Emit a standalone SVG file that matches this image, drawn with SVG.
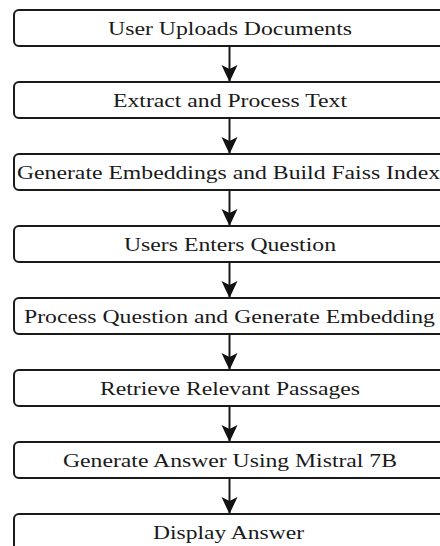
<svg xmlns="http://www.w3.org/2000/svg" width="440" height="546" viewBox="0 0 440 546">
<style>
.box{fill:#ffffff;stroke:#1a1a1a;stroke-width:2}
.lbl{font-family:"Liberation Serif","Times New Roman",serif;font-size:19.5px;fill:#1a1a1a;text-anchor:middle}
.edge{stroke:#1a1a1a;stroke-width:2;fill:none}
</style>
<defs>
<marker id="ah" markerUnits="userSpaceOnUse" markerWidth="20" markerHeight="20" refX="17" refY="8" orient="auto">
<path d="M0,0 L17,8 L0,16 L4,8 Z" fill="#111"/>
</marker>
</defs>
<rect width="440" height="546" fill="#ffffff"/>
<g id="connectors">
<line class="edge" x1="229.5" y1="46" x2="229.5" y2="82" marker-end="url(#ah)"/>
<line class="edge" x1="229.5" y1="118" x2="229.5" y2="154" marker-end="url(#ah)"/>
<line class="edge" x1="229.5" y1="190" x2="229.5" y2="226" marker-end="url(#ah)"/>
<line class="edge" x1="229.5" y1="262" x2="229.5" y2="298" marker-end="url(#ah)"/>
<line class="edge" x1="229.5" y1="334" x2="229.5" y2="370" marker-end="url(#ah)"/>
<line class="edge" x1="229.5" y1="406" x2="229.5" y2="442" marker-end="url(#ah)"/>
<line class="edge" x1="229.5" y1="478" x2="229.5" y2="514" marker-end="url(#ah)"/>
</g>
<g id="n1"><rect class="box" x="14" y="10" width="432" height="36" rx="5"/><text class="lbl" x="230" y="35" textLength="244" lengthAdjust="spacingAndGlyphs">User Uploads Documents</text></g>
<g id="n2"><rect class="box" x="14" y="82" width="432" height="36" rx="5"/><text class="lbl" x="230" y="107" textLength="234" lengthAdjust="spacingAndGlyphs">Extract and Process Text</text></g>
<g id="n3"><rect class="box" x="14" y="154" width="432" height="36" rx="5"/><text class="lbl" x="228.5" y="179" textLength="423" lengthAdjust="spacingAndGlyphs">Generate Embeddings and Build Faiss Index</text></g>
<g id="n4"><rect class="box" x="14" y="226" width="432" height="36" rx="5"/><text class="lbl" x="230" y="251" textLength="212" lengthAdjust="spacingAndGlyphs">Users Enters Question</text></g>
<g id="n5"><rect class="box" x="14" y="298" width="432" height="36" rx="5"/><text class="lbl" x="229.5" y="323" textLength="411" lengthAdjust="spacingAndGlyphs">Process Question and Generate Embedding</text></g>
<g id="n6"><rect class="box" x="14" y="370" width="432" height="36" rx="5"/><text class="lbl" x="230" y="395" textLength="260" lengthAdjust="spacingAndGlyphs">Retrieve Relevant Passages</text></g>
<g id="n7"><rect class="box" x="14" y="442" width="432" height="36" rx="5"/><text class="lbl" x="230" y="467" textLength="334" lengthAdjust="spacingAndGlyphs">Generate Answer Using Mistral 7B</text></g>
<g id="n8"><rect class="box" x="14" y="514" width="432" height="36" rx="5"/><text class="lbl" x="228.5" y="539" textLength="151" lengthAdjust="spacingAndGlyphs">Display Answer</text></g>
</svg>
